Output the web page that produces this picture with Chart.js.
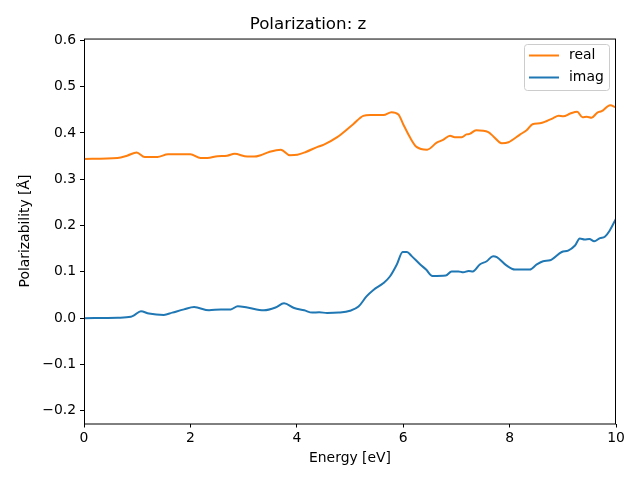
<!DOCTYPE html>
<html>
<head>
<meta charset="utf-8">
<script src="https://cdn.jsdelivr.net/npm/chart.js@4.4.0/dist/chart.umd.min.js"></script>
<style>
    html, body { margin: 0; padding: 0; background: #fff; }
    #wrap { width: 640px; height: 480px; }
</style>
</head>
<body>
<div id="wrap"><canvas id="polChart" width="640" height="480"></canvas></div>
<script>
// ---------------- Data ----------------
const realEnergy = [0, 0.63, 0.81, 0.99, 1.14, 1.38, 1.58, 2.0, 2.19, 2.32, 2.51, 2.69, 2.83, 3.07, 3.2,
    3.32, 3.48, 3.70, 3.87, 4.01, 4.17, 4.39, 4.51, 4.76, 5.06, 5.25, 5.38, 5.63, 5.78, 5.91, 6.0, 6.13,
    6.25, 6.45, 6.63, 6.75, 6.88, 6.97, 7.10, 7.19, 7.25, 7.37, 7.60, 7.70, 7.85, 7.98, 8.20, 8.32, 8.43,
    8.57, 8.70, 8.82, 8.92, 9.01, 9.14, 9.27, 9.37, 9.45, 9.54, 9.65, 9.73, 9.89, 10.0];
const realValues = [0.344, 0.346, 0.351, 0.358, 0.348, 0.348, 0.354, 0.354, 0.346, 0.346, 0.350, 0.351,
    0.355, 0.349, 0.349, 0.352, 0.359, 0.364, 0.352, 0.353, 0.359, 0.370, 0.375, 0.391, 0.419, 0.437, 0.439,
    0.439, 0.445, 0.440, 0.419, 0.390, 0.370, 0.364, 0.379, 0.385, 0.394, 0.391, 0.391, 0.397, 0.398, 0.406,
    0.402, 0.392, 0.378, 0.380, 0.397, 0.406, 0.419, 0.421, 0.426, 0.432, 0.437, 0.436, 0.442, 0.446, 0.434,
    0.435, 0.433, 0.444, 0.447, 0.460, 0.455];

const imagEnergy = [0, 0.63, 0.88, 0.94, 1.07, 1.22, 1.50, 1.66, 1.88, 2.07, 2.35, 2.57, 2.76, 2.89, 3.07,
    3.38, 3.60, 3.76, 3.95, 4.14, 4.29, 4.42, 4.57, 4.79, 5.0, 5.16, 5.31, 5.44, 5.63, 5.75, 5.88, 5.99,
    6.07, 6.16, 6.32, 6.43, 6.55, 6.80, 6.91, 7.04, 7.13, 7.23, 7.31, 7.44, 7.57, 7.69, 7.76, 7.94, 8.10,
    8.38, 8.51, 8.63, 8.76, 8.98, 9.10, 9.23, 9.32, 9.41, 9.50, 9.59, 9.70, 9.79, 9.88, 10.0];
const imagValues = [0.000, 0.001, 0.003, 0.006, 0.015, 0.010, 0.007, 0.012, 0.019, 0.024, 0.017, 0.019,
    0.019, 0.026, 0.023, 0.017, 0.023, 0.032, 0.022, 0.017, 0.012, 0.013, 0.011, 0.012, 0.016, 0.025, 0.047,
    0.061, 0.076, 0.090, 0.116, 0.143, 0.143, 0.134, 0.116, 0.105, 0.091, 0.092, 0.101, 0.101, 0.099, 0.102,
    0.101, 0.116, 0.123, 0.134, 0.132, 0.114, 0.105, 0.105, 0.116, 0.123, 0.125, 0.143, 0.146, 0.157, 0.172,
    0.170, 0.171, 0.166, 0.173, 0.176, 0.189, 0.215];

const xTicks = [0, 2, 4, 6, 8, 10];
const yTicks = [-0.2, -0.1, 0.0, 0.1, 0.2, 0.3, 0.4, 0.5, 0.6];

const FONT = "'DejaVu Sans', sans-serif";

function toPoints(xs, ys) {
    return xs.map((x, i) => ({ x: x, y: ys[i] }));
}

// ---------------- Frame + Legend ----------------
const framePlugin = {
    id: 'frame',
    afterDatasetsDraw(chart) {
        const { ctx, chartArea: a } = chart;
        ctx.save();
        ctx.strokeStyle = '#000';
        ctx.lineWidth = 1;
        ctx.strokeRect(a.left + 0.5, a.top + 0.5, a.right - a.left - 1, a.bottom - a.top);

        // legend box, top right inside the axes
        const x0 = 524.5, y0 = 44.5, w = 85, h = 46;
        ctx.fillStyle = 'rgba(255,255,255,0.8)';
        ctx.strokeStyle = '#cccccc';
        ctx.beginPath();
        ctx.roundRect(x0, y0, w, h, 3);
        ctx.fill();
        ctx.stroke();

        ctx.font = '13.9px ' + FONT;
        ctx.textBaseline = 'middle';
        ctx.textAlign = 'left';
        chart.data.datasets.forEach((ds, i) => {
            const yy = 55.5 + i * 22;
            ctx.strokeStyle = ds.borderColor;
            ctx.lineWidth = 2;
            ctx.beginPath();
            ctx.moveTo(529, yy);
            ctx.lineTo(559, yy);
            ctx.stroke();
            ctx.fillStyle = '#000';
            ctx.fillText(ds.label, 569, yy);
        });
        ctx.restore();
    }
};

// ---------------- Chart ----------------
function drawPolarizationChart() {
    const ctx = document.getElementById('polChart').getContext('2d');
    new Chart(ctx, {
        type: 'line',
        data: {
            datasets: [
                {
                    label: 'real',
                    data: toPoints(realEnergy, realValues),
                    borderColor: '#ff7f0e',
                    borderWidth: 2,
                    pointRadius: 0,
                    cubicInterpolationMode: 'monotone',
                    fill: false
                },
                {
                    label: 'imag',
                    data: toPoints(imagEnergy, imagValues),
                    borderColor: '#1f77b4',
                    borderWidth: 2,
                    pointRadius: 0,
                    cubicInterpolationMode: 'monotone',
                    fill: false
                }
            ]
        },
        options: {
            animation: false,
            responsive: false,
            layout: { padding: { left: 0, right: 24, top: 0, bottom: 0 } },
            plugins: {
                legend: { display: false },
                tooltip: { enabled: false },
                title: {
                    display: true,
                    text: 'Polarization: z',
                    color: '#000',
                    font: { family: FONT, size: 16.7, weight: 'normal', lineHeight: 1.2 },
                    padding: { top: 14.5, bottom: 4 }
                }
            },
            scales: {
                x: {
                    type: 'linear',
                    min: 0,
                    max: 10,
                    afterFit: s => { s.height = 56.5; },
                    afterBuildTicks: s => { s.ticks = xTicks.map(v => ({ value: v })); },
                    grid: { drawOnChartArea: false, drawTicks: true, tickLength: 4, color: '#000' },
                    border: { display: false },
                    ticks: {
                        color: '#000',
                        padding: 3,
                        maxRotation: 0,
                        font: { family: FONT, size: 13.9 },
                        callback: v => String(v)
                    },
                    title: {
                        display: true,
                        text: 'Energy [eV]',
                        color: '#000',
                        font: { family: FONT, size: 13.9 },
                        padding: { top: 0, bottom: 13 }
                    }
                },
                y: {
                    type: 'linear',
                    min: -0.2275,
                    max: 0.604,
                    afterFit: s => { s.width = 84; },
                    afterBuildTicks: s => { s.ticks = yTicks.map(v => ({ value: v })); },
                    grid: { drawOnChartArea: false, drawTicks: true, tickLength: 4, color: '#000' },
                    border: { display: false },
                    ticks: {
                        color: '#000',
                        padding: 4,
                        font: { family: FONT, size: 13.9 },
                        callback: v => (v < -1e-9 ? '\u2212' : '') + Math.abs(v).toFixed(1)
                    },
                    title: {
                        display: true,
                        text: 'Polarizability [Å]',
                        color: '#000',
                        font: { family: FONT, size: 13.9 },
                        padding: { top: 17, bottom: 0 }
                    }
                }
            }
        },
        plugins: [framePlugin]
    });
}

document.addEventListener('DOMContentLoaded', () => {
    drawPolarizationChart();
});
</script>
</body>
</html>
